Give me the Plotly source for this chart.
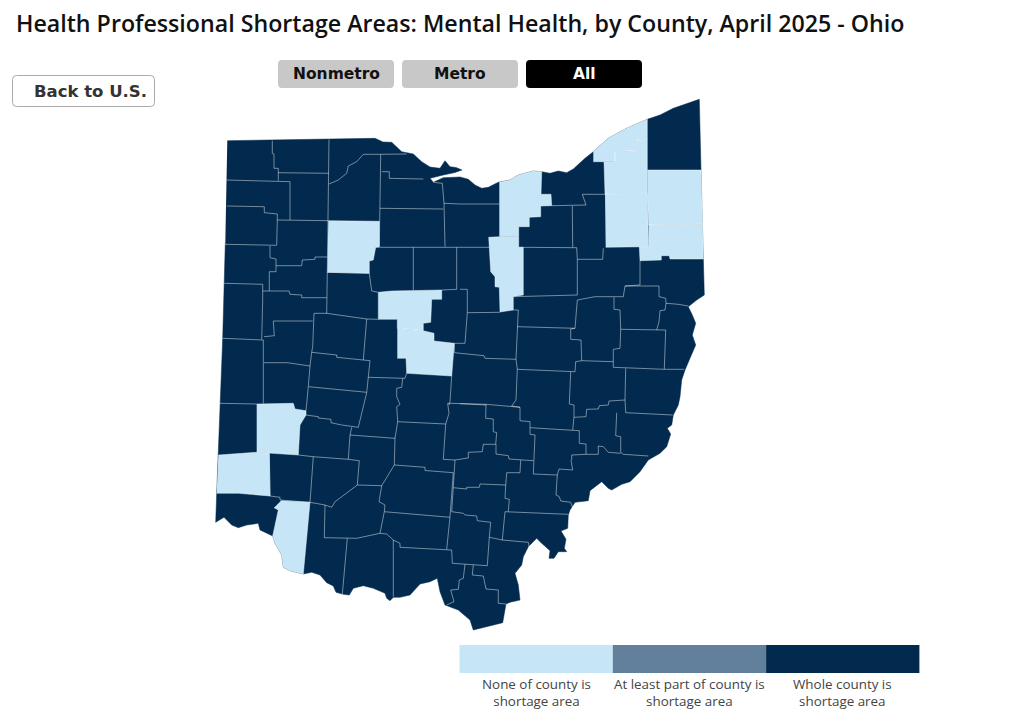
import plotly.graph_objects as go

DARK = "#022A4E"
MID = "#627F9B"
LIGHT = "#C6E5F6"
BORDER = "rgba(255,255,255,0.45)"

# --- map outlines (map units, y grows downwards)
state_outline = [
    (227.3, 140.7), (272, 140), (329, 139.3), (375, 138.3), (383, 142), (391.7, 142.3), (401.7, 151.7),
    (413.3, 154), (421.7, 161.7), (430, 167), (440, 168.3), (445, 160.7), (450, 166.7), (456, 167.5), (462, 170),
    (455, 172.5), (443.3, 175), (430, 178.3), (433.3, 182.3), (443.3, 177.7), (460, 177), (463.3, 177.7),
    (468.3, 179.3), (475, 185), (481.7, 188.3), (488.3, 187.3), (498.3, 182.3), (510, 180), (518.3, 175),
    (533.3, 171), (541.7, 171.7), (550, 173.3), (558.3, 171), (566.7, 172.7), (573.3, 169), (585, 158.3),
    (593.3, 151.7), (608.3, 138.3), (626.7, 128.3), (647.3, 119.3), (660, 115), (673.3, 108.3), (699.3, 99.3),
    (701, 170), (702.7, 223.3), (703.3, 256.7), (704.3, 295), (696.7, 300), (688.3, 306.7), (692.3, 315),
    (695.7, 323.3), (692.3, 335), (695.7, 345), (690, 358.3), (685, 370), (681.7, 380), (680, 396.7),
    (678.3, 405), (673.3, 415), (671.7, 425), (667.3, 428.3), (670.7, 434), (666.7, 446.7), (660, 453.3),
    (648.3, 460), (640, 471.7), (630, 481.7), (621.7, 484.3), (611.7, 490), (608.3, 488.3), (601.7, 481.7),
    (590, 490.7), (588.3, 500.7), (575, 502.3), (570, 510), (568.3, 515), (567.7, 528.3), (561, 531),
    (566, 539.3), (564.3, 548.3), (566.7, 551.7), (558.3, 551.7), (554, 558.3), (549, 558.3), (550, 550.7),
    (540, 541.7), (536.7, 538.3), (528.3, 546.7), (523.3, 556.7), (521.7, 565), (515, 573.3), (518.3, 585),
    (520, 600), (510, 602.3), (506, 604), (502.7, 622.7), (486.7, 626.7), (473.3, 630), (470, 620),
    (458.3, 610), (445, 605), (440, 591.7), (437.3, 578.3), (430, 581.7), (420, 584), (410, 595), (400, 597.3),
    (393.3, 597.3), (390, 600.7), (386.7, 598.3), (385, 593.3), (373.3, 588.3), (363.3, 585.7), (353.3, 588.3),
    (349.3, 595), (343.3, 594.3), (336, 592.3), (333.3, 586), (326.7, 582.7), (320, 575), (311.7, 572.3),
    (303.3, 574), (290, 570.7), (283.3, 567.3), (281.7, 555), (275, 543.3), (272.7, 536), (260, 530),
    (258.3, 523.3), (246.7, 525), (238.3, 527.7), (231.7, 525), (224, 517.3), (215.7, 522.3), (216.7, 493.3),
    (218.3, 453), (220, 403.3), (222.7, 338.3), (224, 290), (225.3, 243.3),
]

# counties that are not shortage areas
lake = [(593.3, 151.7), (608.3, 138.3), (626.7, 128.3), (647.3, 119.3), (647.3, 139.3), (636.7, 140),
        (636.7, 150.7), (615, 151.7), (615, 161.7), (593.3, 161.7)]
geauga = [(615, 161.7), (615, 151.7), (636.7, 150.7), (636.7, 140), (647.3, 139.3), (647.3, 193.3),
          (605, 194), (604, 161.7)]
portage = [(605, 194), (647.3, 193.3), (648.7, 246.7), (605.7, 247.3)]
trumbull = [(647.3, 170), (701, 170), (702.7, 224.3), (648.7, 225), (647.3, 193.3)]
mahoning = [(648.7, 225), (702.7, 224.3), (703.3, 259), (670, 259), (669.3, 255.7), (661.3, 255.7),
            (661.3, 260), (640, 260.7), (639.3, 246.7), (648.7, 246.7)]
lorain = [(499.3, 182.3), (510, 180), (518.3, 175), (533.3, 171), (541.7, 171.7), (541, 194.3), (551, 194.3),
          (551.7, 205.7), (540.7, 206), (540.7, 216.7), (529.3, 217.3), (529.3, 226.7), (518.7, 226.7),
          (518.7, 236.7), (499.3, 236.7)]
ashland = [(499.3, 236.7), (488.7, 237.3), (490.7, 271.7), (495, 276.7), (495, 286.7), (499.3, 287.3),
           (500, 312), (513.3, 310), (513.3, 296.5), (523.3, 295), (523.3, 247.3), (518.7, 247.3), (518.7, 236.7)]
hancock = [(328.3, 220.7), (379.3, 221.3), (379.3, 246.7), (375.7, 247.3), (373.3, 260), (369.3, 261),
           (369.3, 273.3), (327.3, 272.3)]
delaware = [(378.3, 292.3), (391.7, 291), (441.7, 290), (441.7, 299.3), (431.7, 299.3), (430.7, 322.3),
            (423.3, 323.3), (423.3, 330.7), (397.3, 328.3), (397.3, 319.3), (378.3, 319.3)]
franklin = [(397.3, 328.3), (423.3, 330.7), (434, 333.3), (434, 341), (454.3, 343.3), (451.7, 376),
            (406.7, 373.3), (406, 358.3), (397.3, 358.3)]
butler = [(256.7, 404), (293.3, 403.3), (295, 409), (306, 410.7), (306, 415), (300, 425), (298.3, 455),
          (269.3, 453.3), (256.7, 452.3)]
hamilton = [(218.3, 455), (256.7, 452.3), (269.3, 453.3), (270, 496), (238.3, 493.3), (216.7, 493.3)]
clermont = [(281, 500.7), (310, 502.3), (303.3, 574), (290, 570.7), (283.3, 567.3), (281.7, 555), (275, 543.3),
            (272.7, 536), (278.3, 510), (274, 507.7)]

light_names = ["Lake", "Geauga", "Portage", "Trumbull", "Mahoning", "Lorain", "Ashland", "Hancock",
               "Delaware", "Franklin", "Butler", "Hamilton", "Clermont"]
light_shapes = [lake, geauga, portage, trumbull, mahoning, lorain, ashland, hancock,
                delaware, franklin, butler, hamilton, clermont]

# the other county lines, one polyline each
county_lines = [
    [(272.3, 140.7), (272.3, 153.3), (274, 154), (274, 168.3), (278.3, 168.3), (278.3, 180.7)],
    [(226.7, 180), (290, 181.7), (290, 220)],
    [(278.3, 172.7), (329, 173.3)],
    [(329, 139.3), (328.3, 220), (327.3, 271.7), (326.7, 313.3)],
    [(329, 184), (338.3, 180), (346.7, 173.3), (348.3, 166), (356.7, 161.7), (363.3, 154.3), (380, 154.3), (406.7, 154)],
    [(380.7, 154.3), (380, 208.3), (379.3, 246.7)],
    [(381.7, 171.7), (389.3, 171.7), (389.3, 178.3), (423.3, 179)],
    [(380, 208.3), (443.3, 209)],
    [(433.3, 182.3), (442.3, 183.3), (444, 203.3), (445, 246.7)],
    [(444, 203.3), (460, 204), (499.3, 204)],
    [(375.7, 247.3), (413.3, 247.3), (445, 247), (460, 247.3), (489.3, 247.3)],
    [(226.7, 206), (264.3, 206.7), (264.3, 212.7), (277.3, 214), (277.3, 220), (276.7, 245)],
    [(277.3, 220), (328.3, 220.7)],
    [(225, 244.3), (276.7, 245.3)],
    [(270, 246), (270, 257.7), (276, 259), (276, 271.7), (269.3, 271.7), (269.3, 291)],
    [(276, 265.7), (301.7, 265.7), (302.3, 260), (315, 259.3), (315, 257), (327.3, 257)],
    [(224.3, 283.3), (262.7, 284.3), (262.7, 300), (261.7, 339.3)],
    [(327.3, 272.3), (369.3, 273.3), (371.7, 291), (378.3, 292.3), (378.3, 319.3)],
    [(413.3, 247.3), (413.3, 290)],
    [(456.7, 247.3), (456.7, 289.3), (441.7, 290)],
    [(262.7, 291), (289, 291), (290, 294.3), (301.7, 295), (301.7, 297.7), (326.7, 297.7)],
    [(222.7, 338.3), (263.3, 340), (263.3, 403.3)],
    [(220, 403.3), (256.7, 404)],
    [(273.3, 321), (312.7, 321)],
    [(273.3, 321), (274.3, 335.7), (264, 336.7)],
    [(314, 313.3), (312.7, 346.7), (311.7, 352.3), (310, 366), (308.3, 386.7), (306, 410.7)],
    [(314, 313.3), (326.7, 313.3), (366.7, 319), (378.3, 319.3)],
    [(264, 362.7), (287.3, 362.7), (310, 366)],
    [(311.7, 352.3), (336.7, 355), (336.7, 357.3), (363.3, 360), (370, 360.7)],
    [(366.7, 319), (363.3, 360)],
    [(370, 360.7), (368.3, 377.3), (366.7, 392.7), (358.3, 427.3)],
    [(308.7, 386.7), (366.7, 392.3)],
    [(368.3, 377.3), (405, 378.3), (406.7, 373.3)],
    [(402.7, 378.3), (401.7, 387.3), (396.7, 388.3), (396.7, 396.7), (400, 404.3), (396.7, 406.7), (397.7, 421.7),
     (395, 438.3), (394.3, 465)],
    [(397.7, 421.7), (445.7, 424), (449, 413.3), (447.7, 403.3), (450, 403.3), (486, 404.3), (520, 407.3), (520, 420.7),
     (530, 421.7), (530, 434.3), (535, 435), (533.3, 474), (557.3, 475), (559, 469), (572.7, 470), (571, 460)],
    [(451.7, 376), (450, 401.7), (449, 405)],
    [(454.3, 343.3), (454.3, 352.7), (484, 355.7), (485, 358.3), (516, 359.3)],
    [(445.7, 424), (443.3, 459.3), (455, 460), (468.3, 458), (468.3, 452.3), (482.3, 451.7), (483.3, 444.3),
     (495.7, 444.3), (496.7, 432.7), (493.3, 431.7), (493.3, 419), (485.7, 418.3), (486, 404.3)],
    [(351.7, 427.3), (350, 435), (348.3, 459.3)],
    [(350, 435), (395, 438.3)],
    [(306, 415), (318.3, 416.7), (318.3, 418), (331, 419.3), (331, 422.7), (341.7, 425), (358.3, 427.3)],
    [(298.3, 455), (313.3, 456.7), (348.3, 459.3), (359.3, 460.7), (357.3, 485), (381.7, 485.7)],
    [(269.3, 453.3), (270, 496), (280, 497.3), (280, 500), (310, 502.3), (325, 505), (331.7, 507.3), (335, 501.7),
     (357.3, 485)],
    [(313.3, 456.7), (310, 502.3)],
    [(394.3, 465), (425, 467.3), (425, 470.5), (453.3, 472.7), (450, 516.7), (446.7, 549.3)],
    [(394.3, 465), (381.7, 485.7), (379, 501.7), (385, 505), (384.3, 511.7), (380, 533.3)],
    [(384.3, 511.7), (450, 517.3)],
    [(325, 505), (324.3, 537.7), (356.7, 538.3), (380, 533.3), (386.7, 534), (393.3, 540), (400, 543.3), (400, 547.3),
     (451.7, 550), (452.3, 563.3), (487.3, 565.7)],
    [(347.3, 538.3), (342.3, 594.3)],
    [(393.3, 540), (393.3, 596.7)],
    [(455, 460), (453.3, 487.7), (451.7, 511.7)],
    [(453.3, 487.7), (466.7, 489), (466.7, 487.3), (479.3, 487.3), (480, 484), (505.7, 485), (506.7, 472.7),
     (520, 472.7), (520.7, 460)],
    [(451.7, 511.7), (463.3, 513.3), (465, 515), (476.7, 516), (477.3, 520.7), (490.7, 522.3), (489.3, 537.3),
     (487.3, 565.7)],
    [(505.7, 485), (505, 498.3), (509.3, 499.3), (508.3, 511.7)],
    [(505, 511.7), (568.3, 514.3)],
    [(505, 511.7), (502.3, 540), (489.3, 537.3)],
    [(502.3, 540), (528.3, 542.3), (529, 546.7)],
    [(465, 564.3), (463.3, 578.3), (459.3, 580), (458.3, 589.3), (450.7, 590), (454, 601.7), (446.7, 605)],
    [(473.3, 565), (472.3, 575), (483.3, 576), (486, 589), (498.3, 590), (498.3, 603.3), (506, 604)],
    [(557.3, 475), (556, 495), (559.3, 496.7), (560.7, 501), (570.7, 502.3), (572.7, 507.7)],
    [(496, 444.3), (496, 454), (508.3, 455.7), (509, 459), (533.3, 460.7)],
    [(460, 403.7), (486, 405)],
    [(520, 407.3), (511.7, 406), (516, 400), (517.3, 369.3), (516, 359.3), (517.3, 326.7), (518.3, 310), (513.3, 310)],
    [(467.3, 289.3), (467.3, 312.7), (500, 312.3)],
    [(460, 289.3), (467.3, 289.3)],
    [(467.3, 312.7), (465, 343.3), (454.3, 343.3)],
    [(513.3, 296.7), (577.3, 295), (577.3, 259.3), (576.7, 247.7), (518.7, 247.3)],
    [(577.3, 259.3), (602.7, 259.3), (603.3, 248.3)],
    [(517.3, 326.7), (575, 328.3), (577.3, 300), (595, 296.7), (623.3, 296.7), (625, 286), (659, 286), (659, 296.7),
     (665.7, 298.3), (666, 303.3), (678.3, 304.3), (688.3, 306)],
    [(640, 260.7), (640, 285), (625, 286)],
    [(575, 328.3), (570.7, 329), (570.7, 339.3), (581, 340), (581.7, 360.7), (575.7, 361.7), (575, 371.7), (517.3, 369.3)],
    [(570.7, 371.7), (569.3, 404), (574, 405), (574, 416.7), (572.7, 430)],
    [(581.7, 360.7), (613.3, 361.7), (613.3, 349.3), (620, 348.3), (620.7, 329.3), (620, 310), (614, 309.3), (614, 297.3)],
    [(620.7, 329.3), (656.7, 330), (665.7, 330), (664.3, 369.3), (613.3, 367.3), (613.3, 361.7)],
    [(664.3, 369.3), (684.3, 369.3)],
    [(656.7, 330), (659, 321.7), (660, 310.7), (665, 310), (666, 303.3)],
    [(625.7, 368.3), (625, 400), (625.7, 412.7), (672.7, 415)],
    [(616.7, 412.7), (615.7, 435.7), (620.7, 436.7), (620.7, 452.3), (623.3, 454.3), (648.3, 456)],
    [(625, 400), (609, 401), (608.3, 405), (599.3, 405.7), (598.3, 409), (586.7, 409.3), (586, 416.7), (574, 417.3)],
    [(530, 427.7), (579.3, 430.7), (579.3, 443.3), (586, 444), (586, 454.3), (571.7, 455), (571.7, 460)],
    [(586, 454.3), (598.3, 454.3), (598.3, 446), (603.3, 446.7), (608.3, 452.3), (620.7, 453.3)],
    [(572.3, 206), (572.7, 247.3)],
    [(582.3, 194.3), (605, 194.3)],
    [(582.3, 194.3), (586, 205), (551.7, 205.7)],
]

legend_colors = [LIGHT, MID, DARK]
legend_labels = ["None of county is<br>shortage area", "At least part of county is<br>shortage area",
                 "Whole county is<br>shortage area"]
button_labels = ["Nonmetro", "Metro", "All"]
button_fills = ["#C8C8C8", "#C8C8C8", "#000000"]
button_text = ["#111111", "#111111", "#FFFFFF"]

fig = go.Figure()

fig.add_trace(go.Scatter(
    x=[p[0] for p in state_outline], y=[p[1] for p in state_outline],
    mode="lines", fill="toself", fillcolor=DARK, line=dict(color=DARK, width=0.5),
    name="Whole county is shortage area", hoverinfo="name",
))

for line in county_lines:
    fig.add_trace(go.Scatter(
        x=[p[0] for p in line], y=[p[1] for p in line],
        mode="lines", line=dict(color=BORDER, width=1), hoverinfo="skip",
    ))

for name, shape in zip(light_names, light_shapes):
    fig.add_trace(go.Scatter(
        x=[p[0] for p in shape], y=[p[1] for p in shape],
        mode="lines", fill="toself", fillcolor=LIGHT, line=dict(color="rgba(255,255,255,0.55)", width=0.8),
        name=name, hoverinfo="name",
    ))


def rounded(x0, y0, x1, y1, r):
    return (f"M{x0 + r},{y0} L{x1 - r},{y0} Q{x1},{y0} {x1},{y0 + r} L{x1},{y1 - r} Q{x1},{y1} {x1 - r},{y1} "
            f"L{x0 + r},{y1} Q{x0},{y1} {x0},{y1 - r} L{x0},{y0 + r} Q{x0},{y0} {x0 + r},{y0} Z")


shapes = []
annotations = []

# buttons
for i, label in enumerate(button_labels):
    x0 = 278 + i * 124
    shapes.append(dict(type="path", path=rounded(x0, 60, x0 + 116, 88, 4), fillcolor=button_fills[i],
                       line=dict(width=0)))
    annotations.append(dict(x=x0 + 58, y=74, text=label, showarrow=False,
                            font=dict(family="DejaVu Sans", size=15.5, color=button_text[i], weight="bold")))

shapes.append(dict(type="path", path=rounded(12.5, 75.5, 154.5, 106.5, 4), fillcolor="#FFFFFF",
                   line=dict(color="#AAAAAA", width=1)))
annotations.append(dict(x=90, y=91, text="Back to U.S.", showarrow=False,
                        font=dict(family="DejaVu Sans", size=16.5, color="#333333", weight="bold")))

# legend
for i, color in enumerate(legend_colors):
    x0 = 459.5 + i * 153.3
    shapes.append(dict(type="rect", x0=x0, x1=x0 + 153.3, y0=645, y1=673, fillcolor=color, line=dict(width=0)))
    annotations.append(dict(x=x0 + 76.7, y=692, text=legend_labels[i], showarrow=False, align="center",
                            font=dict(family="Open Sans", size=13.4, color="#444444")))

annotations.append(dict(x=14, y=23, xanchor="left", showarrow=False,
                        text="Health Professional Shortage Areas: Mental Health, by County, April 2025 - Ohio",
                        font=dict(family="Open Sans", size=23.2, color="#111111", weight=600)))

# the page has an 8px body margin, so the plot area starts at 8,8
fig.update_layout(
    width=1016, height=707,
    margin=dict(l=0, r=0, t=0, b=0),
    paper_bgcolor="white", plot_bgcolor="white",
    showlegend=False,
    xaxis=dict(range=[8, 1024], visible=False, fixedrange=True),
    yaxis=dict(range=[715, 8], visible=False, fixedrange=True),
    shapes=shapes, annotations=annotations,
)
fig.write_html("out.html", config={"displayModeBar": False})
